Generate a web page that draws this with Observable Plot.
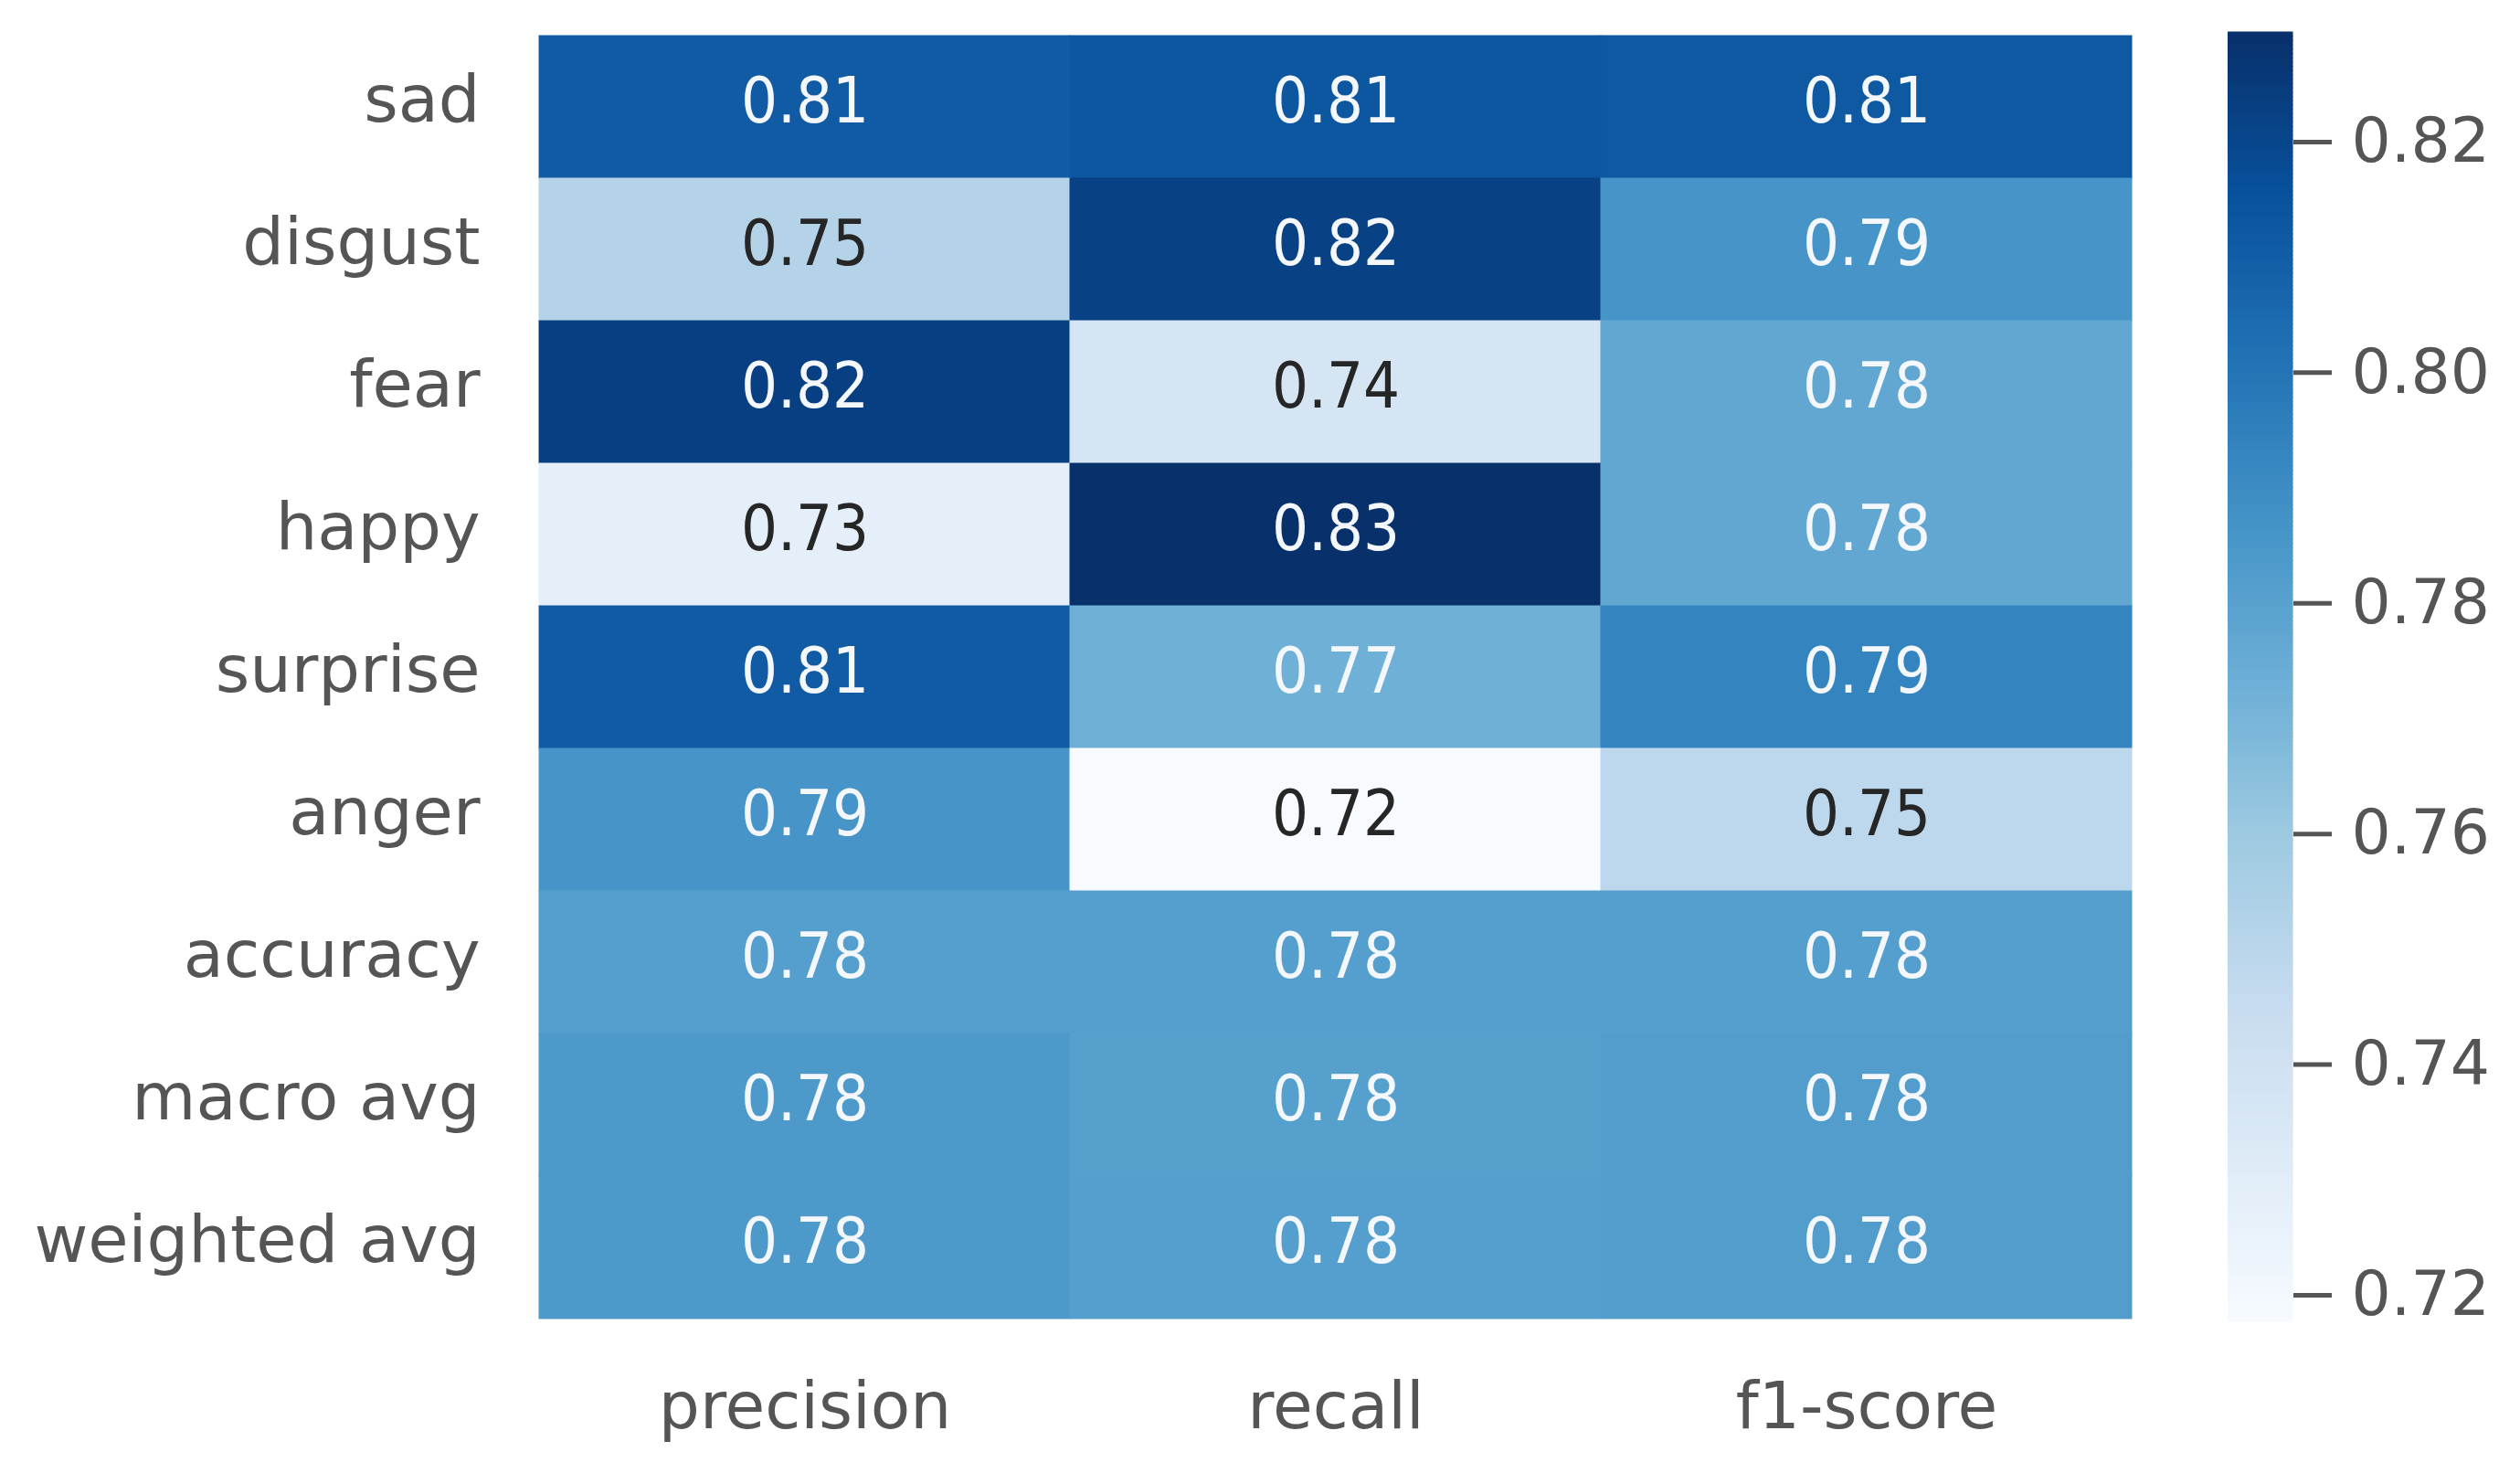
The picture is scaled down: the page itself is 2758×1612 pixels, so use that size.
<!DOCTYPE html>
<html>
<head>
<meta charset="utf-8">
<script src="https://cdn.jsdelivr.net/npm/d3@7"></script>
<script src="https://cdn.jsdelivr.net/npm/@observablehq/plot@0.6"></script>
<style>
  html, body { margin: 0; padding: 0; background: white; }
  #wrap { position: relative; width: 2758px; height: 1612px; }
  #wrap > div { position: absolute; top: 0; }
  #main { left: 0; }
  #cbar { left: 2438px; }
  #cbar g[aria-label="y-axis"] line { stroke-width: 5px; }
</style>
</head>
<body>
<div id="wrap"><div id="main"></div><div id="cbar"></div></div>
<script>
// ---- data ----
const labels = ["sad", "disgust", "fear", "happy", "surprise", "anger", "accuracy", "macro avg", "weighted avg"];
const metrics = ["precision", "recall", "f1-score"];
const precision = [0.811, 0.752, 0.823, 0.728, 0.811, 0.786, 0.781, 0.784, 0.784];
const recall    = [0.813, 0.8224, 0.737, 0.8295, 0.7725, 0.7177, 0.781, 0.7807, 0.781];
const f1score   = [0.812, 0.786, 0.777, 0.777, 0.7935, 0.7488, 0.781, 0.782, 0.782];
const colorbarTicks = [0.72, 0.74, 0.76, 0.78, 0.80, 0.82];
const blues = ["#f7fbff", "#deebf7", "#c6dbef", "#9ecae1", "#6baed6", "#4292c6", "#2171b5", "#08519c", "#08306b"];

const series = {"precision": precision, "recall": recall, "f1-score": f1score};
const table = labels.flatMap((lab, i) => metrics.map(m => ({label: lab, metric: m, value: series[m][i]})));

const vmin = d3.min(table, d => d.value);
const vmax = d3.max(table, d => d.value);
const stops = blues.map((_, i) => vmin + (vmax - vmin) * i / (blues.length - 1));
const colorScale = {type: "linear", domain: stops, range: blues, interpolate: "rgb"};

const labelFont = "'DejaVu Sans', sans-serif";
const annotFont = "'DejaVu Sans Condensed', 'DejaVu Sans', sans-serif";
const hasAxis = typeof Plot.axisY === "function";

const mainMarks = [
  Plot.cell(table, {x: "metric", y: "label", fill: "value", stroke: "value", strokeWidth: 1, inset: 0}),
  Plot.text(table, {
    x: "metric", y: "label",
    text: d => d3.format(".2f")(d.value),
    fill: d => d.value < 0.76 ? "#262626" : "#f4f8fc",
    fontSize: 70,
    fontFamily: annotFont,
    dy: -6
  })
];
if (hasAxis) {
  mainMarks.push(
    Plot.axisY({tickSize: 0, tickPadding: 65, dy: -8, label: null, fontSize: 72}),
    Plot.axisX({anchor: "bottom", tickSize: 0, tickPadding: 66, label: null, fontSize: 71})
  );
}

const main = Plot.plot({
  width: 2758,
  height: 1612,
  marginLeft: 590,
  marginRight: 425,
  marginTop: 35,
  marginBottom: 166,
  style: {fontFamily: labelFont, fontSize: "72px", color: "#555", background: "white"},
  x: hasAxis ? {domain: metrics, padding: 0} :
    {domain: metrics, padding: 0, axis: "bottom", tickSize: 0, tickPadding: 66, label: null},
  y: hasAxis ? {domain: labels, padding: 0} :
    {domain: labels, padding: 0, axis: "left", tickSize: 0, tickPadding: 65, label: null},
  color: colorScale,
  marks: mainMarks
});
document.getElementById("main").appendChild(main);

// colour bar
const nSlices = 300;
const slices = d3.range(nSlices).map(i => ({
  y1: vmin + (vmax - vmin) * i / nSlices,
  y2: vmin + (vmax - vmin) * (i + 1) / nSlices,
  v: vmin + (vmax - vmin) * (i + 0.5) / nSlices
}));
const cbarMarks = [
  Plot.rect(slices, {x1: 0, x2: 1, y1: "y1", y2: "y2", fill: "v", stroke: "v", strokeWidth: 1})
];
if (hasAxis) {
  cbarMarks.push(Plot.axisY(colorbarTicks, {anchor: "right", tickFormat: ".2f", tickSize: 42, tickPadding: 22, strokeWidth: 5, label: null, fontSize: 68}));
}
const cbar = Plot.plot({
  width: 320,
  height: 1612,
  marginLeft: 0,
  marginRight: 249,
  marginTop: 35,
  marginBottom: 166,
  style: {fontFamily: labelFont, fontSize: "68px", color: "#555", background: "transparent"},
  x: {domain: [0, 1], axis: null},
  y: hasAxis ? {domain: [vmin, vmax]} :
    {domain: [vmin, vmax], axis: "right", ticks: colorbarTicks, tickFormat: ".2f", tickSize: 42, tickPadding: 22, label: null},
  color: colorScale,
  marks: cbarMarks
});
document.getElementById("cbar").appendChild(cbar);
</script>
</body>
</html>
